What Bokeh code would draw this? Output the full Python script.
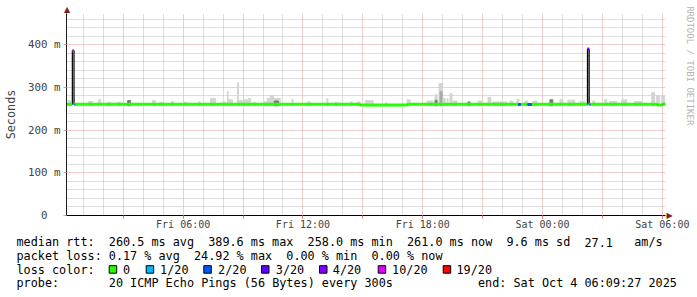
import pandas as pd
from bokeh.plotting import figure
from bokeh.layouts import column
from bokeh.core.properties import value
from bokeh.models import (Range1d, FixedTicker, LinearAxis,
                          ColumnDataSource, DatetimeTickFormatter)
from bokeh.embed import file_html
from bokeh.resources import INLINE

# ---------------- data ----------------
t_start = "2025-10-03 00:09:27"
t_end = "2025-10-04 06:09:27"

loss_labels = ["0", "1/20", "2/20", "3/20", "4/20", "10/20", "19/20"]
loss_colors = ["#26ff00", "#00b8ff", "#0059ff", "#5e00ff", "#7e00ff", "#dd00ff", "#ff0000"]

# median rtt (ms), piecewise-constant runs, with loss level index
med_start = ["10-03 00:09:27", "10-03 00:27", "10-03 00:32", "10-03 00:37", "10-03 14:52",
             "10-03 17:13", "10-03 22:47", "10-03 22:55", "10-03 23:15", "10-03 23:28",
             "10-04 02:15", "10-04 02:20", "10-04 02:25", "10-04 05:45", "10-04 06:00"]
med_end = ["10-03 00:27", "10-03 00:32", "10-03 00:37", "10-03 14:52", "10-03 17:13",
           "10-03 22:47", "10-03 22:55", "10-03 23:15", "10-03 23:28", "10-04 02:15",
           "10-04 02:20", "10-04 02:25", "10-04 05:45", "10-04 06:00", "10-04 06:09:27"]
med_rtt = [260.5, 386.0, 260.0, 260.5, 258.5, 260.5, 260.0, 260.5, 260.0, 260.5,
           389.6, 260.0, 260.5, 259.0, 261.0]
med_loss = [0, 5, 1, 0, 0, 0, 2, 0, 2, 0, 4, 1, 0, 0, 0]

# smoke (spread of the pings), runs with top (ms) and shade index
smoke_start = ["10-03 00:14", "10-03 01:16", "10-03 01:45", "10-03 02:13", "10-03 02:43",
               "10-03 03:13", "10-03 04:28", "10-03 04:49", "10-03 05:25", "10-03 06:04",
               "10-03 06:46", "10-03 07:22", "10-03 07:58", "10-03 08:13", "10-03 08:16",
               "10-03 08:43", "10-03 08:46", "10-03 09:01", "10-03 09:16", "10-03 09:31",
               "10-03 10:01", "10-03 10:13", "10-03 10:22", "10-03 10:31", "10-03 10:34",
               "10-03 11:27", "10-03 12:13", "10-03 13:12", "10-03 13:37", "10-03 14:22",
               "10-03 14:43", "10-03 15:07", "10-03 16:07", "10-03 17:13", "10-03 18:13",
               "10-03 18:37", "10-03 18:37", "10-03 18:49", "10-03 18:52", "10-03 19:01",
               "10-03 19:13", "10-03 19:22", "10-03 19:31", "10-03 20:16", "10-03 20:46",
               "10-03 21:16", "10-03 21:31", "10-03 22:22", "10-03 22:43", "10-03 23:07",
               "10-03 23:31", "10-04 00:22", "10-04 00:52", "10-04 01:16", "10-04 01:52",
               "10-04 02:15", "10-04 02:31", "10-04 03:07", "10-04 03:22", "10-04 03:58",
               "10-04 04:37", "10-04 05:28", "10-04 05:43", "10-04 05:58"]
smoke_end = ["10-03 00:22", "10-03 01:28", "10-03 01:52", "10-03 02:22", "10-03 02:52",
             "10-03 03:22", "10-03 04:37", "10-03 04:58", "10-03 05:31", "10-03 06:10",
             "10-03 06:52", "10-03 07:37", "10-03 08:07", "10-03 08:15", "10-03 08:28",
             "10-03 08:46", "10-03 08:58", "10-03 09:13", "10-03 09:22", "10-03 09:37",
             "10-03 10:13", "10-03 10:22", "10-03 10:31", "10-03 10:52", "10-03 10:46",
             "10-03 11:30", "10-03 12:22", "10-03 13:15", "10-03 13:43", "10-03 14:28",
             "10-03 14:52", "10-03 15:31", "10-03 16:13", "10-03 17:22", "10-03 18:31",
             "10-03 18:43", "10-03 18:43", "10-03 19:00", "10-03 18:58", "10-03 19:07",
             "10-03 19:16", "10-03 19:28", "10-03 19:43", "10-03 20:22", "10-03 20:58",
             "10-03 21:25", "10-03 22:13", "10-03 22:31", "10-03 22:49", "10-03 23:16",
             "10-03 23:43", "10-04 00:31", "10-04 01:01", "10-04 01:37", "10-04 02:07",
             "10-04 02:20", "10-04 02:37", "10-04 03:13", "10-04 03:43", "10-04 04:13",
             "10-04 04:58", "10-04 05:37", "10-04 05:52", "10-04 06:07"]
smoke_top = [269, 267, 271, 265, 265, 269, 269, 265, 267, 265,
             266, 274, 266, 291, 271, 311, 269, 271, 274, 265,
             266, 274, 281, 274, 268, 272, 266, 274, 265, 266,
             266, 269, 264, 271, 268, 283, 270, 309, 290, 274,
             274, 285, 268, 266, 268, 276, 266, 268, 272, 268,
             268, 271, 271, 270, 267, 389, 268, 272, 267, 271,
             267, 288, 281, 281]
smoke_shade = [0, 0, 0, 0, 0, 2, 0, 0, 0, 0,
               0, 0, 0, 0, 0, 0, 0, 0, 0, 0,
               0, 0, 0, 0, 2, 0, 0, 0, 0, 0,
               0, 0, 0, 0, 0, 0, 2, 0, 1, 0,
               0, 0, 0, 2, 0, 0, 0, 0, 0, 0,
               0, 2, 0, 0, 0, 0, 0, 0, 0, 0,
               0, 0, 0, 0]
shade_colors = ["#d4d4d4", "#a8a8a8", "#7a7a7a"]

y_ticks = [0, 100, 200, 300, 400]
y_tick_labels = ["0\u00a0\u00a0", "100 m", "200 m", "300 m", "400 m"]
x_label_ticks = ["10-03 06:00", "10-03 12:00", "10-03 18:00", "10-04 00:00", "10-04 06:00"]

legend_rows = [
    [(0, "median rtt:"), (13, "260.5 ms avg"), (27, "389.6 ms max"), (41, "258.0 ms min"),
     (55, "261.0 ms now"), (69, "9.6 ms sd"), (80, "27.1"), (87, "am/s")],
    [(0, "packet loss:"), (13, "0.17 % avg"), (25, "24.92 % max"), (38, "0.00 % min"),
     (50, "0.00 % now")],
    [(0, "loss color:")],
    [(0, "probe:"), (13, "20 ICMP Echo Pings (56 Bytes) every 300s"),
     (65, "end: Sat Oct"), (78, "4 06:09:27 2025")],
]
credit_text = "RRDTOOL / TOBI OETIKER"


def dt(s):
    if len(s) <= 14:
        s = "2025-" + s
    return pd.Timestamp(s)


def ms(s):
    return dt(s).value / 1e6


# ---------------- main chart ----------------
MONO = "DejaVu Sans Mono"
Y_MAX = 473
W, H_MAIN, H_LEG = 697, 232, 65
FL, FR, FT, FB = 66, 666, 13, 215   # frame edges in pixels
X0, X1 = ms(t_start), ms(t_end)
ARROW_COL = "#801f1f"

p = figure(width=W, height=H_MAIN, x_axis_type="datetime",
           x_range=Range1d(X0, X1), y_range=Range1d(0, Y_MAX),
           output_backend="svg", toolbar_location=None,
           min_border_left=FL, min_border_right=W - FR, min_border_top=FT,
           min_border_bottom=H_MAIN - FB)
p.background_fill_color = "white"
p.border_fill_color = "white"
p.outline_line_color = None

# grids
hour_ms = 3600e3
day0 = ms("10-03 00:00")
x_major_grid = [day0 + h * hour_ms for h in range(3, 31, 3)]
x_minor_grid = [day0 + h * hour_ms for h in range(1, 31) if h % 3 != 0]
p.xgrid.ticker = FixedTicker(ticks=x_major_grid, minor_ticks=x_minor_grid)
p.ygrid.ticker = FixedTicker(ticks=[100, 200, 300, 400],
                             minor_ticks=[v for v in range(20, Y_MAX, 20) if v % 100 != 0])
for g in (p.xgrid, p.ygrid):
    g.grid_line_color = "#e39a9a"
    g.grid_line_alpha = 1.0
    g.grid_line_dash = "1 1"
    g.minor_grid_line_color = "#bdbdbd"
    g.minor_grid_line_alpha = 1.0
    g.minor_grid_line_dash = "1 1"

# smoke
smoke = ColumnDataSource(dict(
    left=[dt(s) for s in smoke_start], right=[dt(s) for s in smoke_end],
    top=smoke_top, bottom=[257] * len(smoke_top),
    color=[shade_colors[i] for i in smoke_shade]))
p.quad(left="left", right="right", top="top", bottom="bottom", color="color", source=smoke)

# median line: dark transitions, then coloured runs
step_x = [dt(s) for s in med_start] + [dt(med_end[-1])]
step_y = med_rtt + [med_rtt[-1]]
p.step(x=step_x, y=step_y, mode="after", line_color="#000000", line_width=1.2)
runs = ColumnDataSource(dict(
    x0=[dt(s) for s in med_start], x1=[dt(s) for s in med_end],
    y=med_rtt, color=[loss_colors[i] for i in med_loss]))
p.segment(x0="x0", x1="x1", y0="y", y1="y", line_color="color", line_width=3, source=runs)

# left axis
p.yaxis.ticker = FixedTicker(ticks=y_ticks)
p.yaxis.major_label_overrides = dict(zip(y_ticks, y_tick_labels))
p.yaxis.axis_label = "Seconds"
p.yaxis.axis_label_text_font = MONO
p.yaxis.axis_label_text_font_size = "11.8px"
p.yaxis.axis_label_text_font_style = "normal"
p.yaxis.axis_label_standoff = 7
p.yaxis.major_label_text_font = MONO
p.yaxis.major_label_text_font_size = "10.8px"
p.yaxis.major_tick_out = 3
p.yaxis.major_tick_in = 0
p.yaxis.major_label_standoff = 3
p.yaxis.major_tick_line_color = "#e39a9a"
p.yaxis.axis_line_color = "#1f1f1f"

# bottom axis
x_ticks = [ms(s) for s in x_label_ticks]
x_minor = [day0 + h * hour_ms for h in range(3, 31, 3)]
p.xaxis.ticker = FixedTicker(ticks=x_ticks, minor_ticks=x_minor)
fmt = "%a %H:%M"
p.xaxis.formatter = DatetimeTickFormatter(microseconds=fmt, milliseconds=fmt, seconds=fmt,
                                          minsec=fmt, minutes=fmt, hourmin=fmt, hours=fmt,
                                          days=fmt, months=fmt, years=fmt)
p.xaxis.major_label_text_font = MONO
p.xaxis.major_label_text_font_size = "10px"
p.xaxis.major_tick_out = 3
p.xaxis.major_tick_in = 0
p.xaxis.minor_tick_out = 3
p.xaxis.minor_tick_in = 0
p.xaxis.major_label_standoff = 0
p.xaxis.major_tick_line_color = "#de6f6f"
p.xaxis.minor_tick_line_color = "#de6f6f"
p.xaxis.axis_line_color = "#000000"

# arrowhead at the top of the value axis (bare axis above, one labelled tick)
top_tick = int(X0 + 0.5 / (FR - FL) * (X1 - X0))
top_axis = LinearAxis(ticker=FixedTicker(ticks=[top_tick]),
                      major_label_overrides={top_tick: "\u25b2"})
top_axis.axis_line_color = None
top_axis.major_tick_out = 0
top_axis.major_tick_in = 0
top_axis.minor_tick_out = 0
top_axis.minor_tick_in = 0
top_axis.major_label_standoff = 0
top_axis.major_label_text_font = "DejaVu Sans"
top_axis.major_label_text_font_size = "8px"
top_axis.major_label_text_color = ARROW_COL
p.add_layout(top_axis, "above")

# right side: arrowhead at the time axis end + credit as axis label
credit = LinearAxis(ticker=FixedTicker(ticks=[0]), major_label_overrides={0: "\u25b6"},
                    axis_label=credit_text + "\u00a0" * 18)
credit.axis_line_color = None
credit.major_tick_out = 0
credit.major_tick_in = 0
credit.minor_tick_out = 0
credit.minor_tick_in = 0
credit.major_label_standoff = 1
credit.major_label_text_font = "DejaVu Sans"
credit.major_label_text_font_size = "8px"
credit.major_label_text_color = ARROW_COL
credit.axis_label_text_font = MONO
credit.axis_label_text_font_size = "9px"
credit.axis_label_text_font_style = "normal"
credit.axis_label_text_color = "#b4b4b4"
credit.axis_label_standoff = 9
p.add_layout(credit, "right")

# ---------------- legend block ----------------
q = figure(width=W, height=H_LEG, x_range=Range1d(0, W), y_range=Range1d(H_MAIN + H_LEG, H_MAIN),
           output_backend="svg", toolbar_location=None,
           x_axis_location=None, y_axis_location=None,
           min_border_left=0, min_border_right=0, min_border_top=0, min_border_bottom=0)
q.grid.visible = False
q.background_fill_color = "white"
q.border_fill_color = "white"
q.outline_line_color = None

for f in (p, q):
    try:
        f.frame_align = False
    except Exception:
        pass

row_y = [241.7, 255.4, 269.1, 282.8]
CW = 7.1
tx, ty, tt = [], [], []
for ry, row in zip(row_y, legend_rows):
    for col, txt in row:
        tx.append(16 + col * CW)
        ty.append(ry)
        tt.append(txt)

sq_x = [108.7, 145.7, 203.3, 261.0, 319.0, 377.7, 442.7]
lab_x = [122.6, 159.6, 217.6, 275.3, 332.3, 391.6, 456.0]
for lx, lab in zip(lab_x, loss_labels):
    tx.append(lx)
    ty.append(row_y[2])
    tt.append(lab)

q.text(x=tx, y=ty, text=tt, text_font=value(MONO), text_font_size=value("11.8px"),
       text_baseline="middle", text_align="left", text_color="black")
q.quad(left=sq_x, right=[s + 7.5 for s in sq_x], top=[265.2] * len(sq_x),
       bottom=[272.7] * len(sq_x), fill_color=loss_colors, line_color="black", line_width=1)

layout = column(p, q, spacing=0)
open("out.html", "w").write(file_html(layout, INLINE))
